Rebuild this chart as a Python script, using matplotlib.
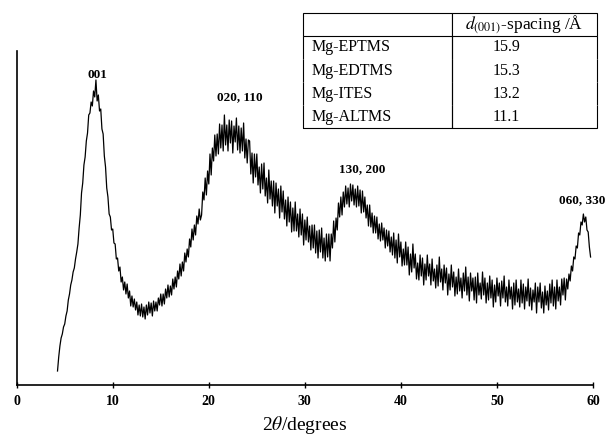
import numpy as np
import matplotlib
matplotlib.use("Agg")
import matplotlib.pyplot as plt

plt.rcParams['font.family'] = ['Liberation Serif', 'DejaVu Serif']
plt.rcParams['mathtext.fontset'] = 'stix'

# XRD pattern, 0.125 degree step (one row = 1 degree)
two_theta = np.arange(4.25, 59.76, 0.125)
intensity = [
    14, 28, 39, 47, 51, 58, 61, 69,
    74, 85, 91, 100, 105, 113, 117, 126,
    133, 141, 157, 170, 192, 202, 220, 228,
    244, 252, 270, 272, 283, 279, 294, 288,
    305, 284, 290, 274, 276, 256, 251, 229,
    218, 197, 188, 171, 168, 155, 156, 142,
    141, 126, 127, 114, 118, 103, 108, 95,
    103, 91, 101, 87, 94, 79, 89, 78,
    86, 75, 83, 70, 80, 69, 81, 68,
    78, 66, 80, 70, 83, 72, 82, 69,
    84, 74, 83, 74, 87, 80, 91, 79,
    91, 81, 96, 87, 100, 88, 99, 90,
    106, 96, 108, 98, 114, 106, 121, 109,
    123, 114, 132, 123, 136, 128, 146, 138,
    156, 145, 160, 150, 169, 161, 176, 165,
    170, 193, 185, 207, 190, 214, 201, 231,
    210, 237, 224, 250, 229, 251, 231, 261,
    237, 260, 234, 270, 240, 260, 234, 265,
    242, 264, 232, 259, 243, 267, 235, 259,
    232, 257, 234, 262, 227, 246, 222, 245,
    244, 211, 232, 202, 231, 208, 231, 200,
    218, 192, 221, 196, 222, 189, 207, 182,
    215, 186, 204, 179, 204, 172, 202, 179,
    196, 167, 199, 173, 194, 166, 185, 159,
    188, 163, 183, 153, 177, 154, 183, 154,
    171, 148, 176, 150, 171, 140, 165, 145,
    168, 143, 159, 135, 160, 137, 160, 132,
    154, 127, 155, 133, 157, 127, 147, 124,
    151, 128, 151, 124, 151, 137, 164, 143,
    167, 155, 182, 168, 188, 170, 193, 178,
    199, 181, 197, 178, 201, 184, 200, 180,
    196, 178, 199, 179, 195, 172, 194, 173,
    188, 167, 180, 159, 180, 158, 172, 152,
    169, 152, 168, 146, 161, 144, 162, 145,
    157, 137, 155, 139, 154, 133, 148, 130,
    152, 127, 145, 122, 151, 128, 143, 119,
    136, 120, 143, 120, 138, 110, 131, 113,
    141, 117, 131, 106, 122, 105, 130, 109,
    127, 100, 121, 105, 130, 109, 121, 100,
    126, 104, 116, 97, 120, 99, 128, 103,
    116, 95, 120, 102, 117, 90, 111, 95,
    120, 98, 113, 89, 108, 91, 116, 94,
    107, 87, 112, 94, 118, 90, 108, 84,
    112, 94, 107, 85, 108, 82, 112, 90,
    102, 86, 113, 90, 107, 82, 102, 85,
    109, 87, 105, 78, 100, 83, 107, 89,
    102, 79, 104, 87, 109, 83, 98, 79,
    105, 86, 98, 76, 102, 80, 105, 83,
    96, 78, 105, 82, 101, 76, 98, 84,
    106, 79, 97, 75, 95, 83, 102, 72,
    98, 83, 102, 77, 93, 72, 99, 80,
    94, 75, 101, 82, 105, 79, 98, 76,
    105, 84, 98, 80, 106, 90, 107, 85,
    106, 96, 111, 104, 119, 114, 128, 126,
    139, 137, 152, 150, 163, 160, 171, 163,
    168, 155, 153, 138, 128,
]

peak_labels = ['001', '020, 110', '130, 200', '060, 330']
peak_x = [8.36, 23.2, 36.0, 58.9]
peak_y = [310, 288, 216, 185]

samples = ['Mg-EPTMS', 'Mg-EDTMS', 'Mg-ITES', 'Mg-ALTMS']
spacings = ['15.9', '15.3', '13.2', '11.1']
header = r'$d_{(001)}$-spacing /Å'

fig = plt.figure(figsize=(6.07, 4.38), dpi=100)
ax = fig.add_axes([0.0275, 0.121, 0.9494, 0.7626])

ax.plot(two_theta, intensity, color='black', lw=0.9)

for lab, x, y in zip(peak_labels, peak_x, peak_y):
    ax.text(x, y, lab, ha='center', va='center', fontsize=9.5, fontweight='bold')

ax.set_xlim(0, 60)
ax.set_ylim(0, 334)
ax.set_xticks(np.arange(0, 61, 10))
ax.set_yticks([])
for lbl in ax.get_xticklabels():
    lbl.set_fontweight('bold')
ax.tick_params(axis='x', direction='inout', length=5, width=1, pad=5, labelsize=10)
ax.spines['top'].set_visible(False)
ax.spines['right'].set_visible(False)
ax.spines['left'].set_linewidth(1.2)
ax.spines['bottom'].set_linewidth(1.2)
ax.set_xlabel(r'2$\theta$/degrees', fontsize=14, labelpad=4)

cell_text = [[s, d] for s, d in zip(samples, spacings)]
tab = ax.table(cellText=cell_text, colLabels=['', header], cellLoc='left',
               colLoc='center', colWidths=[149, 145],
               bbox=[0.497, 0.769, 0.510, 0.345])
tab.auto_set_font_size(False)
tab.set_fontsize(11.5)
for (r, c), cell in tab.get_celld().items():
    cell.set_linewidth(0.8)
    if r == 0:
        cell.visible_edges = 'closed'
        cell.get_text().set_fontsize(12.5)
    elif r == len(samples):
        cell.visible_edges = 'BLR'
    else:
        cell.visible_edges = 'LR'
    if r > 0:
        cell.PAD = 0.06 if c == 0 else 0.28

fig.savefig('out.png', dpi=100)
